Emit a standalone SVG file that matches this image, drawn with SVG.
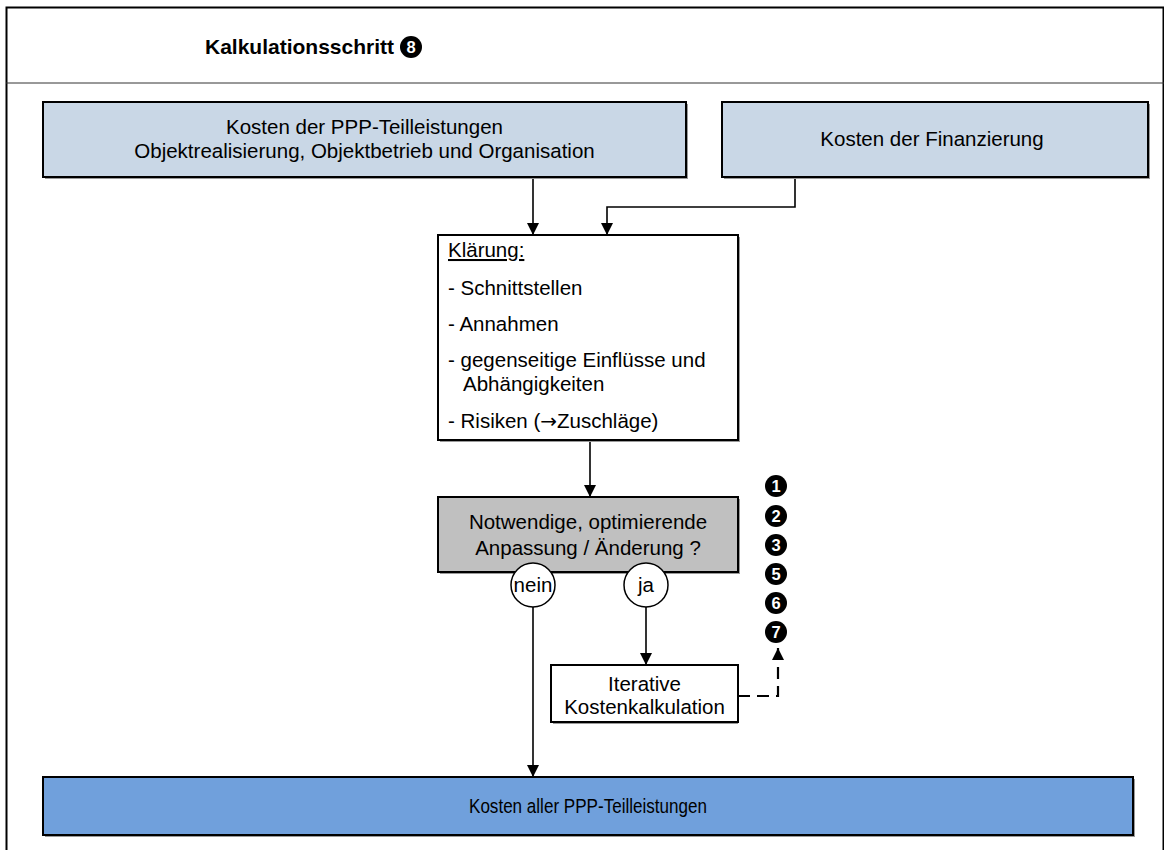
<svg xmlns="http://www.w3.org/2000/svg" width="1164" height="850" viewBox="0 0 1164 850">
  <style>
    text { font-family: "Liberation Sans", Arial, sans-serif; fill: #000; }
    .t { font-size: 20.5px; }
    .c { text-anchor: middle; }
    .title { font-size: 21px; font-weight: bold; }
    .box { stroke: #000; stroke-width: 2; }
    .shadow { fill: #9a9a9a; }
    .light { fill: #c9d7e6; }
    .gray { fill: #c0c0c0; }
    .white { fill: #fff; }
    .dark { fill: #70a0dc; }
    .conn { fill: none; stroke: #000; stroke-width: 1.6; }
    .dash { stroke-dasharray: 12 7; stroke-width: 2.2; }
    .badge { fill: #000; }
    .num { font-size: 16.5px; font-weight: bold; fill: #fff; text-anchor: middle; }
    .ring { fill: #fff; stroke: #000; stroke-width: 1.5; }
    .sym { font-family: "DejaVu Sans", sans-serif; font-size: 20px; }
  </style>
  <defs>
    <marker id="arrow" viewBox="0 0 10 10" refX="10" refY="5" markerWidth="12" markerHeight="12" markerUnits="userSpaceOnUse" orient="auto">
      <path d="M0,0 L10,5 L0,10 Z" fill="#000"/>
    </marker>
  </defs>

  <!-- frame and header -->
  <g id="frame">
    <rect x="6.5" y="7.5" width="1157" height="860" fill="#fff" stroke="#000" stroke-width="2"/>
    <line x1="6" y1="83" x2="1164" y2="83" stroke="#333" stroke-width="1"/>
    <text class="title" x="205" y="54">Kalkulationsschritt</text>
    <circle class="badge" cx="411" cy="47" r="11"/>
    <text class="num" x="411" y="53">8</text>
  </g>

  <!-- connectors -->
  <g id="connectors">
    <path class="conn" d="M533,177 V235" marker-end="url(#arrow)"/>
    <path class="conn" d="M795,177 V207 H607 V235" marker-end="url(#arrow)"/>
    <path class="conn" d="M590,440 V497" marker-end="url(#arrow)"/>
    <path class="conn" d="M533,607 V777" marker-end="url(#arrow)"/>
    <path class="conn" d="M646,607 V665" marker-end="url(#arrow)"/>
    <path class="conn dash" d="M738,696 H778 V648" marker-end="url(#arrow)"/>
  </g>

  <g id="teilleistungen">
    <rect class="shadow" x="45" y="104" width="643" height="75"/>
    <rect class="box light" x="43" y="102" width="643" height="75"/>
    <text class="t c" x="364.5" y="134">Kosten der PPP-Teilleistungen</text>
    <text class="t c" x="364.5" y="158">Objektrealisierung, Objektbetrieb und Organisation</text>
  </g>

  <g id="finanzierung">
    <rect class="shadow" x="724" y="104" width="426" height="75"/>
    <rect class="box light" x="722" y="102" width="426" height="75"/>
    <text class="t c" x="932" y="146">Kosten der Finanzierung</text>
  </g>

  <g id="klaerung">
    <rect class="shadow" x="440" y="237" width="300" height="205"/>
    <rect class="box white" x="438" y="235" width="300" height="205"/>
    <text class="t" x="448" y="257" text-decoration="underline">Klärung:</text>
    <text class="t" x="448" y="295">- Schnittstellen</text>
    <text class="t" x="448" y="331">- Annahmen</text>
    <text class="t" x="448" y="367">- gegenseitige Einflüsse und</text>
    <text class="t" x="463" y="391">Abhängigkeiten</text>
    <text class="t" x="448" y="428">- Risiken (<tspan class="sym">→</tspan>Zuschläge)</text>
  </g>

  <g id="anpassung">
    <rect class="shadow" x="440" y="499" width="300" height="75"/>
    <rect class="box gray" x="438" y="497" width="300" height="75"/>
    <text class="t c" x="588" y="529">Notwendige, optimierende</text>
    <text class="t c" x="588" y="555">Anpassung / Änderung ?</text>
  </g>

  <g id="nein">
    <circle class="ring" cx="533" cy="585" r="22"/>
    <text class="t c" x="533" y="592">nein</text>
  </g>

  <g id="ja">
    <circle class="ring" cx="646" cy="585" r="22"/>
    <text class="t c" x="646" y="592">ja</text>
  </g>

  <g id="iterativ">
    <rect class="shadow" x="553" y="667" width="185" height="57"/>
    <rect class="box white" x="551" y="665" width="187" height="57"/>
    <text class="t c" x="644.5" y="691">Iterative</text>
    <text class="t c" x="644.5" y="714">Kostenkalkulation</text>
  </g>

  <g id="schritte">
    <circle class="badge" cx="776" cy="486" r="11"/><text class="num" x="776" y="492">1</text>
    <circle class="badge" cx="776" cy="516" r="11"/><text class="num" x="776" y="522">2</text>
    <circle class="badge" cx="776" cy="545" r="11"/><text class="num" x="776" y="551">3</text>
    <circle class="badge" cx="776" cy="574" r="11"/><text class="num" x="776" y="580">5</text>
    <circle class="badge" cx="776" cy="603" r="11"/><text class="num" x="776" y="609">6</text>
    <circle class="badge" cx="776" cy="632" r="11"/><text class="num" x="776" y="638">7</text>
  </g>

  <g id="gesamtkosten">
    <rect class="shadow" x="45" y="779" width="1090" height="58"/>
    <rect class="box dark" x="43" y="777" width="1090" height="58"/>
    <text class="t c" x="588" y="813" textLength="238" lengthAdjust="spacingAndGlyphs">Kosten aller PPP-Teilleistungen</text>
  </g>
</svg>
